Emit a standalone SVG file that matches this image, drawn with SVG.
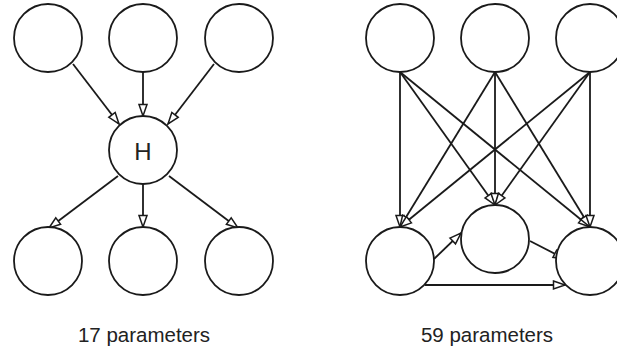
<svg xmlns="http://www.w3.org/2000/svg" width="617" height="349" viewBox="0 0 617 349">
<style>
.n{fill:#fff;stroke:#1a1a1a;stroke-width:1.8}
.e{stroke:#1a1a1a;stroke-width:1.8;fill:none;marker-end:url(#ah)}
.t{font-family:"Liberation Sans",Arial,sans-serif;fill:#222;text-anchor:middle}
</style>
<defs>
<marker id="ah" markerUnits="userSpaceOnUse" markerWidth="14" markerHeight="10" refX="12" refY="4.5" orient="auto" overflow="visible">
<path d="M0.5,0.5 L12,4.5 L0.5,8.5 z" fill="#fff" stroke="#1a1a1a" stroke-width="1.5"/>
</marker>
</defs>
<rect width="617" height="349" fill="#fff"/>
<g id="connectors">
<line class="e" x1="73" y1="64" x2="119" y2="124"/>
<line class="e" x1="143" y1="72" x2="143" y2="116"/>
<line class="e" x1="214" y1="64" x2="168" y2="124"/>
<line class="e" x1="118" y1="176" x2="49" y2="228"/>
<line class="e" x1="143" y1="184" x2="143" y2="227"/>
<line class="e" x1="169" y1="176" x2="238" y2="228"/>
<line class="e" x1="400" y1="72" x2="400" y2="227"/>
<line class="e" x1="400" y1="72" x2="495" y2="205"/>
<line class="e" x1="400" y1="72" x2="590" y2="227"/>
<line class="e" x1="495" y1="72" x2="400" y2="227"/>
<line class="e" x1="495" y1="72" x2="495" y2="205"/>
<line class="e" x1="495" y1="72" x2="590" y2="227"/>
<line class="e" x1="590" y1="72" x2="400" y2="227"/>
<line class="e" x1="590" y1="72" x2="495" y2="205"/>
<line class="e" x1="590" y1="72" x2="590" y2="227"/>
<line class="e" x1="434" y1="259" x2="461" y2="233"/>
<line class="e" x1="530" y1="241" x2="565" y2="259"/>
<line class="e" x1="425" y1="285" x2="565" y2="285"/>
</g>
<g id="L1"><circle class="n" cx="48" cy="38" r="34"/></g>
<g id="L2"><circle class="n" cx="143" cy="38" r="34"/></g>
<g id="L3"><circle class="n" cx="239" cy="38" r="34"/></g>
<g id="H"><circle class="n" cx="143" cy="150" r="34"/><text class="t" x="143" y="160" font-size="24">H</text></g>
<g id="L4"><circle class="n" cx="48" cy="261" r="34"/></g>
<g id="L5"><circle class="n" cx="143" cy="261" r="34"/></g>
<g id="L6"><circle class="n" cx="239" cy="261" r="34"/></g>
<g id="R1"><circle class="n" cx="400" cy="38" r="34"/></g>
<g id="R2"><circle class="n" cx="495" cy="38" r="34"/></g>
<g id="R3"><circle class="n" cx="590" cy="38" r="34"/></g>
<g id="R4"><circle class="n" cx="400" cy="261" r="34"/></g>
<g id="R5"><circle class="n" cx="495" cy="239" r="34"/></g>
<g id="R6"><circle class="n" cx="590" cy="261" r="34"/></g>
<text class="t" x="144" y="342" font-size="20.5">17 parameters</text>
<text class="t" x="487" y="342" font-size="20.5">59 parameters</text>
</svg>
